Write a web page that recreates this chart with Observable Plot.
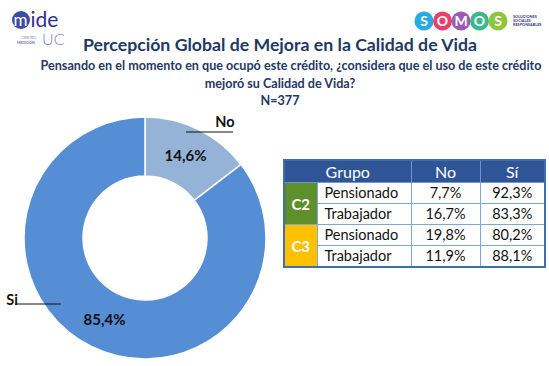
<!DOCTYPE html>
<html>
<head>
<meta charset="utf-8">
<script src="https://cdn.jsdelivr.net/npm/d3@7"></script>
<script src="https://cdn.jsdelivr.net/npm/@observablehq/plot@0.6"></script>
<style>
  html, body { margin: 0; padding: 0; background: #fff; }
  #page { position: relative; width: 549px; height: 366px; overflow: hidden; background: #fff; font-family: Lato, "Open Sans", sans-serif; }
  #overlay { position: absolute; left: 0; top: 0; }
  #donut { position: absolute; left: 0; top: 100px; }
  #tbl { position: absolute; left: 283px; top: 159px; border-collapse: collapse; table-layout: fixed; width: 261px; border: 2px solid #3F6FB0; font-family: Lato, sans-serif; }
  #tbl td, #tbl th { border: 1px solid #7EA6D9; padding: 0; height: 20px; font-size: 14.5px; color: #111; text-align: center; line-height: 20px; }
  #tbl th { background: #2F5597; color: #fff; font-weight: normal; font-size: 16px; height: 21px; border-color: #6E95CF; }
  #tbl td.seg { text-align: left; padding-left: 7px; }
  #tbl td.grp { color: #fff; font-weight: bold; font-size: 15px; }
</style>
</head>
<body>
<div id="page">
  <svg id="overlay" width="549" height="366"></svg>
  <div id="donut"></div>
  <table id="tbl"></table>
</div>
<script>
// ---------- data ----------
const titleText = "Percepción Global de Mejora en la Calidad de Vida";
const subtitleLines = [
  "Pensando en el momento en que ocupó este crédito, ¿considera que el uso de este crédito",
  "mejoró su Calidad de Vida?",
  "N=377"
];
const answers = ["No", "Si"];
const shares = [14.6, 85.4];
const sliceColors = ["#95B3D7", "#558ED5"];

const tableHeaders = ["Grupo", "No", "Sí"];
const groups = ["C2", "C2", "C3", "C3"];
const groupColors = { C2: "#5F8F2A", C3: "#FFC000" };
const segments = ["Pensionado", "Trabajador", "Pensionado", "Trabajador"];
const noPct = [7.7, 16.7, 19.8, 11.9];
const siPct = [92.3, 83.3, 80.2, 88.1];

const fmt = v => v.toFixed(1).replace(".", ",") + "%";

// ---------- titles & logos ----------
const ov = d3.select("#overlay");
const navy = "#1F3864";
ov.append("text").attr("x", 83).attr("y", 51).attr("textLength", 394).attr("lengthAdjust", "spacingAndGlyphs")
  .attr("font-family", "Lato, sans-serif").attr("font-weight", "bold").attr("font-size", 17.5).attr("fill", navy).text(titleText);
const subPos = [{x: 291, y: 70}, {x: 280, y: 87.5}, {x: 280, y: 105}];
subtitleLines.forEach((t, i) => {
  ov.append("text").attr("x", subPos[i].x).attr("y", subPos[i].y).attr("text-anchor", "middle")
    .attr("font-family", "Lato, sans-serif").attr("font-weight", "bold").attr("font-size", 12.6).attr("fill", navy).text(t);
});

// mide UC logo
const logo = ov.append("g");
logo.append("circle").attr("cx", 21).attr("cy", 20).attr("r", 9).attr("fill", "#3D4DA3");
logo.append("text").attr("x", 13.5).attr("y", 26).attr("font-family", "Lato, sans-serif").attr("font-size", 17).attr("fill", "#fff").text("m");
logo.append("text").attr("x", 30.5).attr("y", 27).attr("font-family", "Lato, sans-serif").attr("font-size", 21).attr("fill", "#2E3192").text("ide");
logo.append("text").attr("x", 42).attr("y", 45).attr("font-family", "Lato, sans-serif").attr("font-weight", 300).attr("font-size", 16).attr("fill", "#7882BE").text("UC");
logo.append("text").attr("x", 22).attr("y", 38.5).attr("font-family", "Lato, sans-serif").attr("font-size", 3.5).attr("fill", "#7882BE").text("CENTRO");
logo.append("text").attr("x", 17).attr("y", 43.5).attr("font-family", "Lato, sans-serif").attr("font-size", 3.5).attr("fill", "#2E3192").text("MEDICIÓN");

// SOMOS logo
const somosLetters = ["S", "O", "M", "O", "S"];
const somosColors = ["#29A9E1", "#E8406A", "#9B5BB5", "#3DB88E", "#8DC63F"];
somosLetters.forEach((l, i) => {
  const cx = 424 + i * 18.5;
  ov.append("circle").attr("cx", cx).attr("cy", 21).attr("r", 9.5).attr("fill", somosColors[i]);
  ov.append("text").attr("x", cx).attr("y", 26).attr("text-anchor", "middle").attr("font-family", "Lato, sans-serif")
    .attr("font-weight", "bold").attr("font-size", 14).attr("fill", "#fff").text(l);
});
["SOLUCIONES", "SOCIALES", "RESPONSABLES"].forEach((t, i) => {
  ov.append("text").attr("x", 513).attr("y", 18 + i * 4.2).attr("font-family", "Lato, sans-serif").attr("font-weight", "bold")
    .attr("font-size", 3.8).attr("fill", "#2E3192").text(t);
});

// ---------- donut with Plot ----------
const pieData = answers.map((a, i) => ({answer: a, value: shares[i], color: sliceColors[i]}));
const outerR = 121, innerR = 62;
const labelOffsets = { No: {tx: 80, ty: -116, x1: 41, x2: 88, ly: -106}, Si: {tx: -133, ty: 62, x1: -130, x2: -84, ly: 66} };

function donutMark(index, scales, values, dims) {
  const cx = dims.width / 2, cy = dims.height / 2;
  const g = d3.create("svg:g").attr("transform", `translate(${cx},${cy})`);
  const arcs = d3.pie().sort(null).value(d => d.value)(pieData);
  const arc = d3.arc().innerRadius(innerR).outerRadius(outerR);
  g.selectAll("path").data(arcs).join("path")
    .attr("d", arc).attr("fill", d => d.data.color).attr("stroke", "#fff").attr("stroke-width", 1.5);
  g.selectAll("text.pct").data(arcs).join("text").attr("class", "pct")
    .attr("transform", d => `translate(${arc.centroid(d)})`).attr("text-anchor", "middle").attr("dy", "0.35em")
    .attr("font-family", "Lato, sans-serif").attr("font-weight", "bold").attr("font-size", 15).attr("fill", "#111")
    .text(d => fmt(d.data.value));
  arcs.forEach(d => {
    const o = labelOffsets[d.data.answer];
    g.append("line").attr("x1", o.x1).attr("x2", o.x2).attr("y1", o.ly).attr("y2", o.ly).attr("stroke", "#111").attr("stroke-width", 1);
    g.append("text").attr("x", o.tx).attr("y", o.ty).attr("dy", "0.35em").attr("text-anchor", "middle")
      .attr("font-family", "Lato, sans-serif").attr("font-weight", "bold").attr("font-size", 14.5).attr("fill", "#111").text(d.data.answer);
  });
  return g.node();
}

const chart = Plot.plot({
  width: 290,
  height: 276,
  margin: 0,
  style: {background: "transparent", overflow: "visible"},
  marks: [donutMark]
});
document.getElementById("donut").appendChild(chart);

// ---------- table ----------
const tbl = d3.select("#tbl");
const cg = tbl.append("colgroup");
[33, 94, 69, 65].forEach(w => cg.append("col").style("width", w + "px"));
const hr = tbl.append("tr");
hr.append("th").attr("colspan", 2).text(tableHeaders[0]);
hr.append("th").text(tableHeaders[1]);
hr.append("th").text(tableHeaders[2]);
segments.forEach((s, i) => {
  const tr = tbl.append("tr");
  if (i === 0 || groups[i] !== groups[i - 1]) {
    const span = groups.filter(g => g === groups[i]).length;
    tr.append("td").attr("class", "grp").attr("rowspan", span).style("background", groupColors[groups[i]]).text(groups[i]);
  }
  tr.append("td").attr("class", "seg").text(s);
  tr.append("td").text(fmt(noPct[i]));
  tr.append("td").text(fmt(siPct[i]));
});
</script>
</body>
</html>
